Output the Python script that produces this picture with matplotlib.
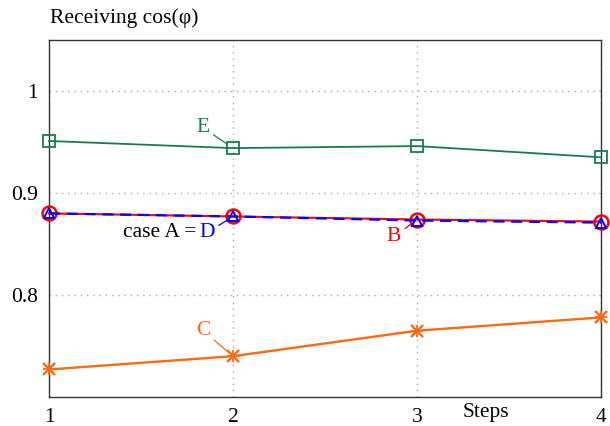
import matplotlib
matplotlib.use("Agg")
import matplotlib.pyplot as plt

plt.rcParams['font.family'] = ['Liberation Serif', 'DejaVu Serif']

steps = [1, 2, 3, 4]
E = [0.951, 0.944, 0.946, 0.935]
B = [0.880, 0.877, 0.874, 0.872]
D = [0.880, 0.877, 0.873, 0.871]
C = [0.727, 0.740, 0.765, 0.778]

green = '#1a7a4c'
orange = '#ff6a10'
red = '#ff0000'
blue = '#0000ff'

fig = plt.figure(figsize=(6.1, 4.26), dpi=100)
ax = fig.add_axes([49/610, 1-397/426, 552/610, 357/426])

ax.plot(steps, E, color=green, lw=1.3, marker='s', ms=9, mfc='none', mec=green, mew=1.3, clip_on=False, zorder=3)
ax.plot(steps, B, color=red, lw=1.5, marker='o', ms=10, mfc='none', mec=red, mew=1.8, clip_on=False, zorder=3)
ax.plot(steps, D, color=blue, lw=1.6, ls=(0, (5, 3)), marker='^', ms=7, mfc='none', mec=blue, mew=1.4, clip_on=False, zorder=4)
ax.plot(steps, C, color=orange, lw=1.7, marker='x', ms=8, mec=orange, mew=1.7, clip_on=False, zorder=3)
ax.plot(steps, C, color=orange, lw=0, marker='+', ms=8, mec=orange, mew=1.3, clip_on=False, zorder=3)

ax.set_xlim(1, 4)
ax.set_ylim(0.70, 1.05)
ax.set_xticks(steps)
ax.set_yticks([0.8, 0.9, 1.0])
ax.set_yticklabels(['0.8', '0.9', '1'])
ax.grid(True, ls=(0, (1, 3.5)), color='#aaaaaa', lw=1.0)
ax.tick_params(length=0, labelsize=15.5, pad=8)
for s in ax.spines.values():
    s.set_color('#333333')
    s.set_linewidth(1.0)

fig.text(50/610, 1-18/426, 'Receiving cos(φ)', fontsize=15.5, va='center', ha='left')
fig.text(486/610, 1-413/426, 'Steps', fontsize=15.5, va='center', ha='center')

ann = dict(fontsize=15.5, ha='center', va='center')
ax.annotate('E', xy=(2, E[1]), xytext=(1.837, 0.964), color=green, **ann,
            arrowprops=dict(arrowstyle='-', color=green, lw=0.9, shrinkA=1, shrinkB=5))
ax.annotate('C', xy=(2, C[1]), xytext=(1.837, 0.765), color=orange, **ann,
            arrowprops=dict(arrowstyle='-', color=orange, lw=0.9, shrinkA=1, shrinkB=4))
ax.annotate('B', xy=(3, B[2]), xytext=(2.875, 0.857), color=red, **ann,
            arrowprops=dict(arrowstyle='-', color=red, lw=0.9, shrinkA=1, shrinkB=5))
ax.annotate('D', xy=(2, D[1]), xytext=(1.859, 0.861), color=blue, **ann,
            arrowprops=dict(arrowstyle='-', color=blue, lw=0.9, shrinkA=1, shrinkB=5))
ax.text(1.80, 0.861, 'case A =', color='black', fontsize=15.5, ha='right', va='center')

fig.savefig('out.png', dpi=100)
